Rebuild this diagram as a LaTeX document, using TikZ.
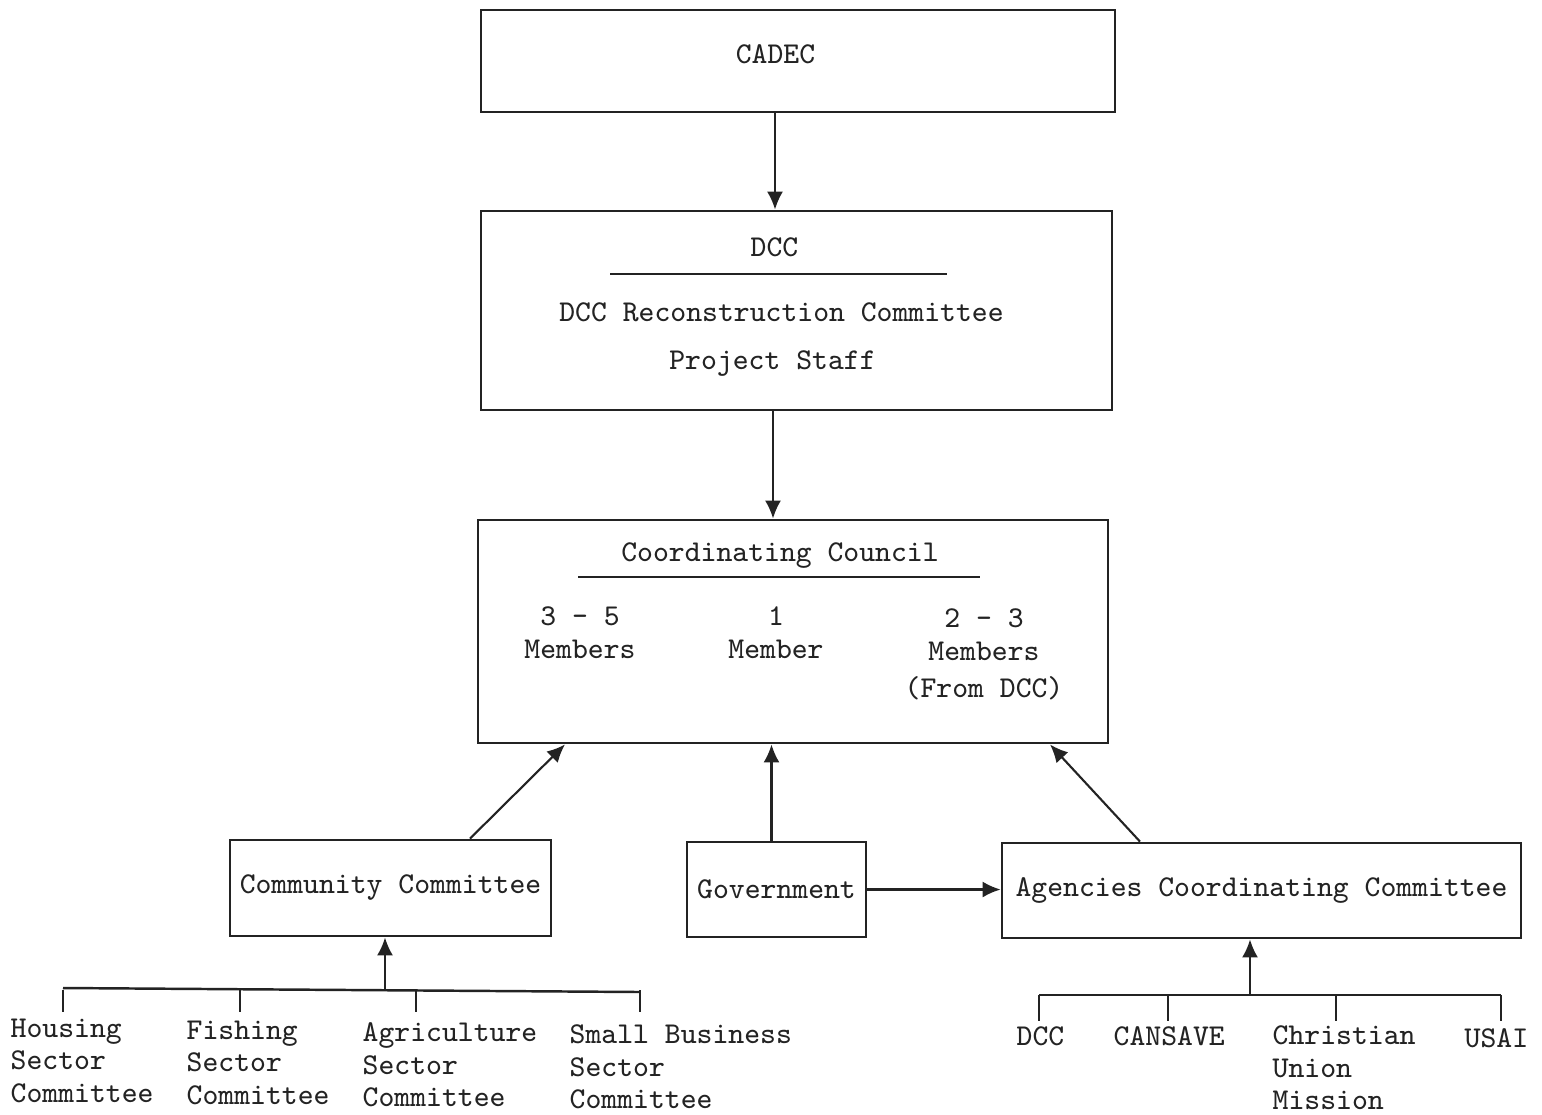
\documentclass[tikz,border=0pt]{standalone}
\usepackage{tikz}
\usetikzlibrary{arrows.meta,positioning,calc}
\definecolor{inkgray}{RGB}{35,35,35}
\newcommand{\typefont}{\fontsize{8.6}{9.3}\selectfont\ttfamily}
\tikzset{
  orgbox/.style={rectangle, draw=inkgray, line width=0.8pt, inner sep=2pt, font=\typefont, text=inkgray},
  txt/.style={inner sep=0pt, font=\typefont, text=inkgray},
  flow/.style={draw=inkgray, line width=0.6pt, -{Latex[length=1.8mm,width=1.6mm]}},
  bus/.style={draw=inkgray, line width=0.7pt},
  rulebar/.style={draw=inkgray, line width=0.6pt}
}

\begin{document}
\begin{tikzpicture}
  \useasboundingbox (0,0) rectangle (15.42,-11.14);
  % top of the chart
  \node[orgbox, minimum width=6.34cm, minimum height=1.02cm] (cadec) at (7.98,-0.61) {};
  \node[txt, anchor=base] (cadectxt) at (7.755,-0.63) {CADEC};
  \node[orgbox, minimum width=6.31cm, minimum height=1.99cm] (dcc) at (7.965,-3.105) {};
  \node[txt, anchor=base] (dcctop) at (7.745,-2.56) {DCC};
  \draw[rulebar] (6.10,-2.74) -- (9.47,-2.74);
  \node[txt, anchor=base] (dccrc) at (7.815,-3.21) {DCC Reconstruction Committee};
  \node[txt, anchor=base] (staff) at (7.725,-3.69) {Project Staff};
  \draw[flow] ([xshift=-2.3mm]cadec.south) -- ([xshift=-2.3mm]cadec.south |- dcc.north);

  % coordinating council
  \node[orgbox, minimum width=6.30cm, minimum height=2.23cm] (cc) at (7.93,-6.315) {};
  \node[txt, anchor=base] (cctitle) at (7.80,-5.61) {Coordinating Council};
  \draw[rulebar] (5.78,-5.77) -- (9.80,-5.77);
  \node[txt, anchor=north, align=center] (colA) at (5.80,-6.06) {3 - 5\\Members};
  \node[txt, anchor=north, align=center] (colB) at (7.76,-6.06) {1\\Member};
  \node[txt, anchor=north, align=center] (colC) at (9.84,-6.08) {2 - 3\\Members\\[0.5mm](From DCC)};
  \draw[flow] ([xshift=-2.35mm]dcc.south) -- ([xshift=-2.35mm]dcc.south |- cc.north);

  % second level
  \node[orgbox, minimum width=3.21cm, minimum height=0.96cm] (comm) at (3.905,-8.88) {Community Committee};
  \node[orgbox, minimum width=1.79cm, minimum height=0.95cm] (gov) at (7.765,-8.895) {Government};
  \node[orgbox, minimum width=5.19cm, minimum height=0.95cm] (acc) at (12.615,-8.905) {Agencies Coordinating Committee};
  \draw[flow] ([xshift=7.95mm]comm.north) -- ([xshift=-22.8mm]cc.south);
  \draw[flow] ([xshift=-0.5mm]gov.north) -- ([xshift=-0.5mm]gov.north |- cc.south);
  \draw[flow] ([xshift=-12.15mm]acc.north) -- ([xshift=25.7mm]cc.south);
  \draw[flow] (gov.east) -- (gov.east -| acc.west);

  % sector committees
  \coordinate (sbus) at (3.85,-9.90);
  \draw[bus] (0.63,-9.88) -- (6.40,-9.92);
  \foreach \x in {0.63,2.40,4.16,6.40}
    \draw[bus] (\x,-9.90) -- (\x,-10.12);
  \draw[flow] (sbus) -- (sbus |- comm.south);
  \node[txt, anchor=north west, align=left] (housing) at (0.10,-10.18) {Housing\\Sector\\Committee};
  \node[txt, anchor=north west, align=left] (fishing) at (1.86,-10.20) {Fishing\\Sector\\Committee};
  \node[txt, anchor=north west, align=left] (agri) at (3.62,-10.22) {Agriculture\\Sector\\Committee};
  \node[txt, anchor=north west, align=left] (smallbiz) at (5.69,-10.24) {Small Business\\Sector\\Committee};

  % member agencies
  \coordinate (abus) at (12.50,-9.95);
  \draw[bus] (10.39,-9.95) -- (15.01,-9.95);
  \foreach \x in {10.39,11.68,13.36,15.01}
    \draw[bus] (\x,-9.95) -- (\x,-10.21);
  \draw[flow] (abus) -- (abus |- acc.south);
  \node[txt, anchor=north west] (dccag) at (10.16,-10.26) {DCC};
  \node[txt, anchor=north west] (cansave) at (11.13,-10.26) {CANSAVE};
  \node[txt, anchor=north west, align=left] (cum) at (12.72,-10.25) {Christian\\Union\\Mission};
  \node[txt, anchor=north west] (usai) at (14.64,-10.28) {USAI};
\end{tikzpicture}
\end{document}
